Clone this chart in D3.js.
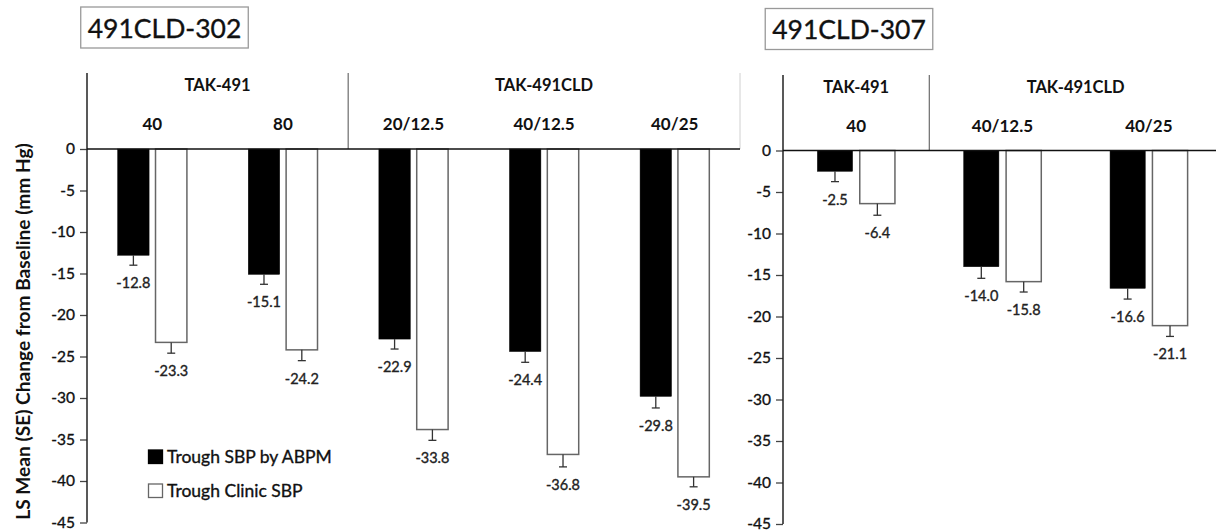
<!DOCTYPE html>
<html>
<head>
<meta charset="utf-8">
<script src="https://cdn.jsdelivr.net/npm/d3@7"></script>
<style>
  body { margin: 0; background: #fff; }
  svg { display: block; font-family: Lato, "Open Sans", sans-serif; }
  .heavy { stroke: currentColor; stroke-width: 0.35px; }
</style>
</head>
<body>
<svg id="chart" width="1216" height="531"></svg>
<script>
// data
var cats302 = ["40", "80", "20/12.5", "40/12.5", "40/25"];
var groups302 = ["TAK-491", "TAK-491", "TAK-491CLD", "TAK-491CLD", "TAK-491CLD"];
var abpm302 = [-12.8, -15.1, -22.9, -24.4, -29.8];
var clinic302 = [-23.3, -24.2, -33.8, -36.8, -39.5];
var abpmSE302 = [1.2, 1.2, 1.2, 1.3, 1.4];
var clinicSE302 = [1.3, 1.3, 1.3, 1.5, 1.2];

var cats307 = ["40", "40/12.5", "40/25"];
var groups307 = ["TAK-491", "TAK-491CLD", "TAK-491CLD"];
var abpm307 = [-2.5, -14.0, -16.6];
var clinic307 = [-6.4, -15.8, -21.1];
var abpmSE307 = [1.25, 1.4, 1.3];
var clinicSE307 = [1.4, 1.25, 1.3];

var yTicks = [0, -5, -10, -15, -20, -25, -30, -35, -40, -45];
var seriesNames = ["Trough SBP by ABPM", "Trough Clinic SBP"];

var loc = d3.formatLocale({decimal: ".", thousands: ",", grouping: [3], currency: ["", ""], minus: "-"});
var fmt1 = loc.format(".1f");
var fmt0 = loc.format("d");

var svg = d3.select("#chart");

function drawPanel(p) {
  var x = d3.scaleBand().domain(p.cats).range([p.x0, p.x1]).padding(0);
  var bw = x.bandwidth();
  var xs = d3.scaleBand().domain([0, 1]).range([bw * 0.235, bw * 0.765]).paddingInner(0.17);
  var y = d3.scaleLinear().domain([-45, 0]).range([p.yBot, p.yTop]);

  var g = svg.append("g");

  // title box
  var t = g.append("text")
    .attr("class", "heavy")
    .attr("x", p.titleX).attr("y", p.titleY)
    .attr("text-anchor", "middle")
    .attr("dominant-baseline", "central")
    .attr("font-size", 26.5)
    .attr("fill", "#111").style("color", "#111")
    .text(p.title);
  var tw = t.node().getComputedTextLength();
  g.insert("rect", "text")
    .attr("x", p.titleX - tw / 2 - 7).attr("y", p.titleY - 20.5)
    .attr("width", tw + 14).attr("height", 41)
    .attr("fill", "#fff").attr("stroke", "#999").attr("stroke-width", 1.3);

  // header group labels + dividers
  var groupNames = Array.from(new Set(p.groups));
  groupNames.forEach(function(name, i) {
    var members = p.cats.filter(function(c, j) { return p.groups[j] === name; });
    var gx0 = x(members[0]);
    var gx1 = x(members[members.length - 1]) + bw;
    g.append("text")
      .attr("x", (gx0 + gx1) / 2).attr("y", p.groupY)
      .attr("text-anchor", "middle").attr("dominant-baseline", "central")
      .attr("font-size", 16.5).attr("font-weight", "bold").attr("fill", "#111")
      .text(name);
    if (i > 0) {
      g.append("line")
        .attr("x1", gx0).attr("x2", gx0)
        .attr("y1", p.headTop).attr("y2", y(0))
        .attr("stroke", "#777").attr("stroke-width", 1.3);
    }
  });
  if (p.rightEdge) {
    g.append("line")
      .attr("x1", p.x1).attr("x2", p.x1)
      .attr("y1", p.headTop).attr("y2", y(0))
      .attr("stroke", "#d0d0d0").attr("stroke-width", 1);
  }

  g.selectAll(".dose").data(p.cats).enter().append("text")
    .attr("x", function(d) { return x(d) + bw / 2; })
    .attr("y", p.doseY)
    .attr("text-anchor", "middle").attr("dominant-baseline", "central")
    .attr("font-size", 17).attr("font-weight", "bold").attr("fill", "#111")
    .text(function(d) { return d; });

  // y axis
  var ax = g.append("g")
    .attr("transform", "translate(" + p.x0 + ",0)")
    .call(d3.axisLeft(y).tickValues(yTicks).tickSize(7).tickSizeOuter(0).tickPadding(5).tickFormat(fmt0));
  ax.select(".domain").remove();
  ax.selectAll(".tick line").attr("stroke", "#444").attr("stroke-width", 1.3);
  ax.selectAll(".tick text")
    .attr("class", "heavy")
    .attr("font-size", 15.5).attr("fill", "#111").style("color", "#111")
    .attr("font-family", "Lato, sans-serif");
  g.append("line")
    .attr("x1", p.x0).attr("x2", p.x0)
    .attr("y1", p.headTop).attr("y2", y(-45))
    .attr("stroke", "#222").attr("stroke-width", 1.5);

  // bars
  var rows = [];
  p.cats.forEach(function(c, i) {
    rows.push({cat: c, s: 0, v: p.abpm[i], se: p.abpmSE[i]});
    rows.push({cat: c, s: 1, v: p.clinic[i], se: p.clinicSE[i]});
  });

  g.selectAll(".bar").data(rows).enter().append("rect")
    .attr("x", function(d) { return x(d.cat) + xs(d.s); })
    .attr("y", y(0))
    .attr("width", xs.bandwidth())
    .attr("height", function(d) { return y(d.v) - y(0); })
    .attr("fill", function(d) { return d.s === 0 ? "#000" : "#fff"; })
    .attr("stroke", function(d) { return d.s === 0 ? "#000" : "#666"; })
    .attr("stroke-width", function(d) { return d.s === 0 ? 0.5 : 1.5; });

  // error bars
  var cx = function(d) { return x(d.cat) + xs(d.s) + xs.bandwidth() / 2; };
  g.selectAll(".err").data(rows).enter().append("line")
    .attr("x1", cx).attr("x2", cx)
    .attr("y1", function(d) { return y(d.v); })
    .attr("y2", function(d) { return y(d.v - d.se); })
    .attr("stroke", "#333").attr("stroke-width", 1.3);
  g.selectAll(".cap").data(rows).enter().append("line")
    .attr("x1", function(d) { return cx(d) - 4; })
    .attr("x2", function(d) { return cx(d) + 4; })
    .attr("y1", function(d) { return y(d.v - d.se); })
    .attr("y2", function(d) { return y(d.v - d.se); })
    .attr("stroke", "#333").attr("stroke-width", 1.3);

  // value labels
  g.selectAll(".val").data(rows).enter().append("text")
    .attr("class", "heavy")
    .attr("x", cx)
    .attr("y", function(d) { return y(d.v - d.se) + 23; })
    .attr("text-anchor", "middle")
    .attr("font-size", 14.5).attr("fill", "#222").style("color", "#222")
    .text(function(d) { return fmt1(d.v); });

  // zero line
  g.append("line")
    .attr("x1", p.x0).attr("x2", p.zeroEnd)
    .attr("y1", y(0)).attr("y2", y(0))
    .attr("stroke", "#111").attr("stroke-width", 1.5);
}

drawPanel({
  title: "491CLD-302", titleX: 164.5, titleY: 27.5,
  cats: cats302, groups: groups302,
  abpm: abpm302, clinic: clinic302, abpmSE: abpmSE302, clinicSE: clinicSE302,
  x0: 87, x1: 740, zeroEnd: 740, rightEdge: true,
  yTop: 149, yBot: 522.5, headTop: 73, groupY: 85, doseY: 123
});

drawPanel({
  title: "491CLD-307", titleX: 849, titleY: 29,
  cats: cats307, groups: groups307,
  abpm: abpm307, clinic: clinic307, abpmSE: abpmSE307, clinicSE: clinicSE307,
  x0: 783, x1: 1222, zeroEnd: 1216, rightEdge: false,
  yTop: 150.5, yBot: 524, headTop: 75, groupY: 86.5, doseY: 125
});

// y axis title, fitted to the span it has in the picture
var yl = svg.append("text")
  .attr("transform", "translate(22,331.5) rotate(-90)")
  .attr("text-anchor", "middle").attr("dominant-baseline", "central")
  .attr("font-size", 17).attr("font-weight", "bold").attr("fill", "#111")
  .text("LS Mean (SE) Change from Baseline (mm Hg)");
var ylw = yl.node().getComputedTextLength();
yl.attr("font-size", 17 * 377 / ylw);

// legend
var legend = svg.append("g");
legend.selectAll("rect").data(seriesNames).enter().append("rect")
  .attr("x", 148.5)
  .attr("y", function(d, i) { return 450 + i * 34; })
  .attr("width", 14).attr("height", 13.5)
  .attr("fill", function(d, i) { return i === 0 ? "#000" : "#fff"; })
  .attr("stroke", function(d, i) { return i === 0 ? "#000" : "#666"; })
  .attr("stroke-width", 1.3);
legend.selectAll("text").data(seriesNames).enter().append("text")
  .attr("class", "heavy")
  .attr("x", 167)
  .attr("y", function(d, i) { return 463 + i * 34; })
  .attr("font-size", 17.5).attr("fill", "#111").style("color", "#111")
  .text(function(d) { return d; });
</script>
</body>
</html>
